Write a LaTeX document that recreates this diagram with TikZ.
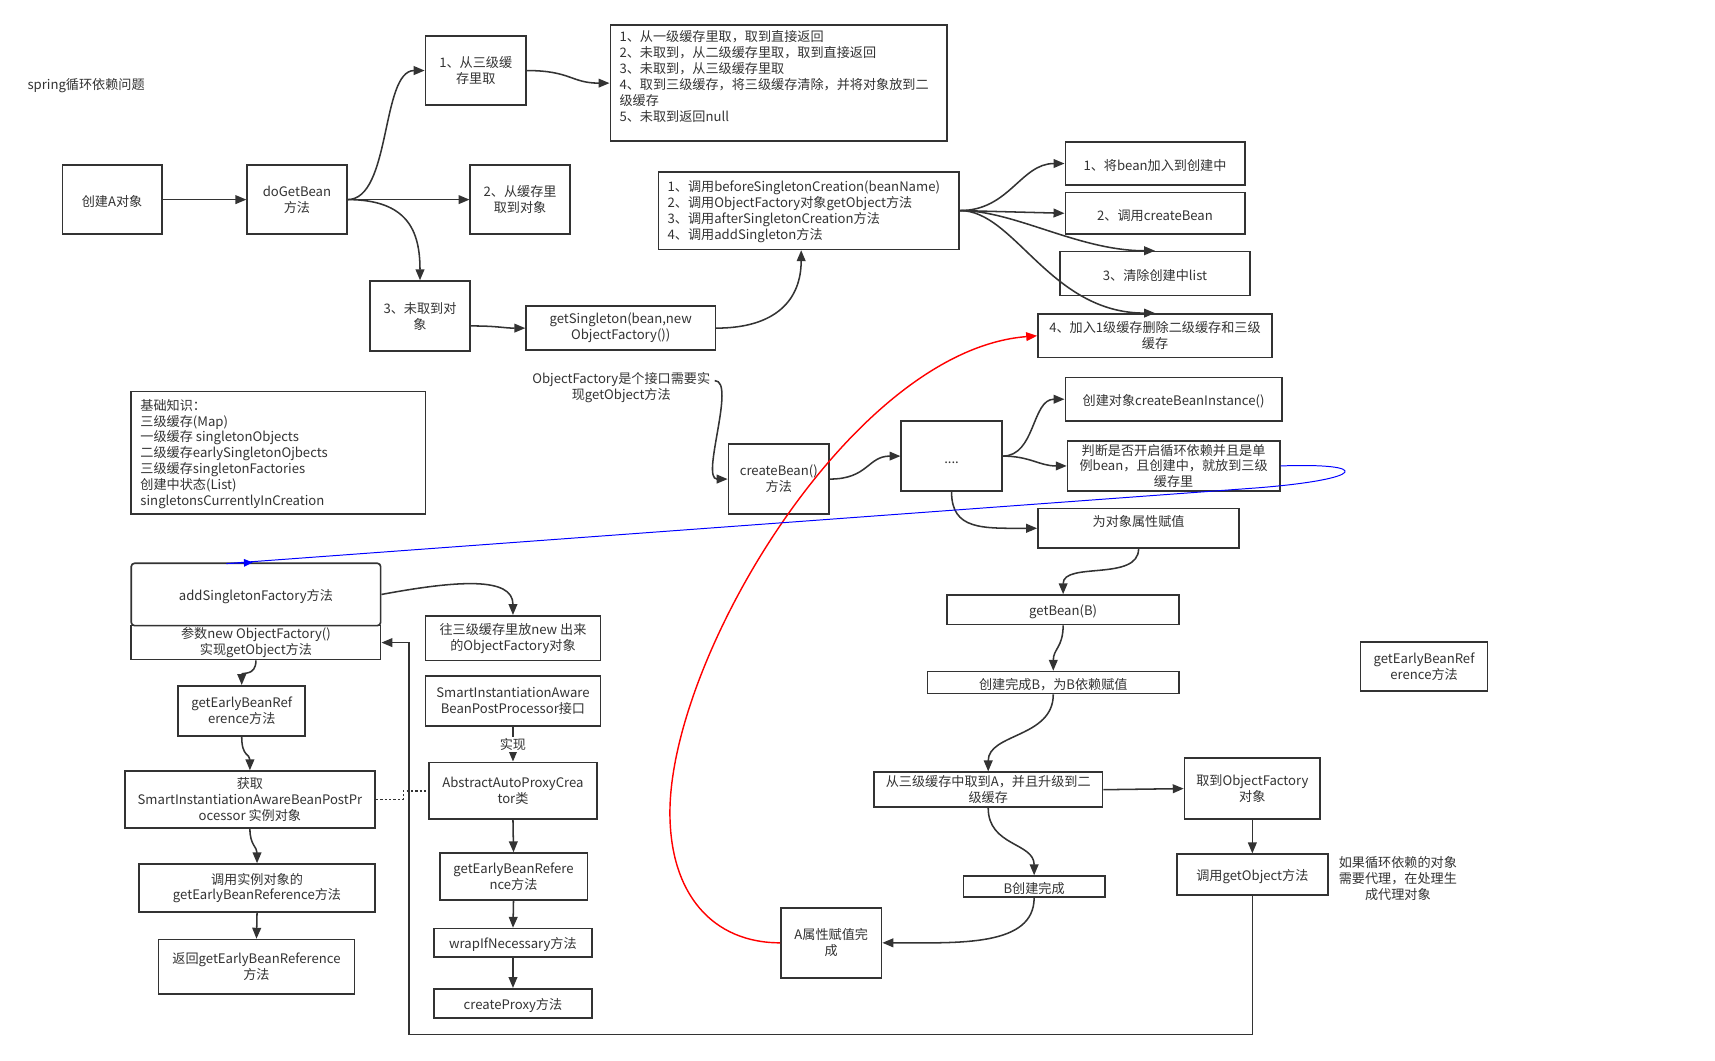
\documentclass[tikz,border=0pt]{standalone}
\usepackage{fontspec}
\setmainfont{Noto Sans CJK SC}
\usetikzlibrary{arrows.meta,calc}
\definecolor{ln}{HTML}{333333}
\newcommand{\dfont}{\fontsize{12}{14.5}\selectfont}
\begin{document}
\begin{tikzpicture}[x=1pt,y=-1pt,
  box/.style={draw=ln, line width=1.5pt, text=ln, align=center, inner sep=1pt, font=\dfont, execute at begin node={\rule{0pt}{13.5pt}}},
  ed/.style={draw=ln, line width=1.4pt, -{Triangle[length=10pt,width=8pt]}},
  txt/.style={text=ln, font=\dfont, inner sep=0pt}]
\useasboundingbox[fill=white] (0,0) rectangle (1568,970);

\node[txt,anchor=west] (title) at (25,78) {spring循环依赖问题};

\node[box,minimum width=91pt,minimum height=63pt] (cA) at (102.5,182.5) {创建A对象};
\node[box,minimum width=91pt,minimum height=63pt] (dgb) at (271.5,182.5) {doGetBean\\方法};
\node[box,minimum width=92pt,minimum height=63pt] (s1) at (435,64.5) {1、从三级缓\\存里取};
\node[box,minimum width=91pt,minimum height=63pt] (s2) at (475.5,182.5) {2、从缓存里\\取到对象};
\node[box,minimum width=92pt,minimum height=64pt] (s3) at (384,289) {3、未取到对\\象};
\node[box,minimum width=173pt,minimum height=40pt] (gs) at (567.5,300) {getSingleton(bean,new\\ObjectFactory())};

\node[box,minimum width=308pt,minimum height=106pt] (lst) at (712,76) {};
\node[txt,anchor=west,align=left] (lstt) at ($(lst.west)+(9,-6)$) {1、从一级缓存里取，取到直接返回\\2、未取到，从二级缓存里取，取到直接返回\\3、未取到，从三级缓存里取\\4、取到三级缓存，将三级缓存清除，并将对象放到二\\级缓存\\5、未取到返回null};

\node[box,minimum width=275pt,minimum height=71pt] (gsl) at (739.5,192.5) {};
\node[txt,anchor=west,align=left] (gslt) at ($(gsl.west)+(9,1)$) {1、调用beforeSingletonCreation(beanName)\\2、调用ObjectFactory对象getObject方法\\3、调用afterSingletonCreation方法\\4、调用addSingleton方法};

\node[box,minimum width=164pt,minimum height=39pt] (b1) at (1056,149.5) {1、将bean加入到创建中};
\node[box,minimum width=164pt,minimum height=38pt] (b2) at (1056,195) {2、调用createBean};
\node[box,minimum width=174pt,minimum height=40pt] (b3) at (1056,250) {3、清除创建中list};
\node[box,minimum width=214pt,minimum height=40pt] (b4) at (1056,307) {4、加入1级缓存删除二级缓存和三级\\缓存};

\node[txt,align=center] (oft) at (568,354) {ObjectFactory是个接口需要实\\现getObject方法};

\node[box,minimum width=198pt,minimum height=40pt] (cbi) at (1073,365) {创建对象createBeanInstance()};

\node[box,minimum width=269pt,minimum height=112pt] (base) at (254.5,414) {};
\node[txt,anchor=west,align=left] (baset) at ($(base.west)+(9,1)$) {基础知识：\\三级缓存(Map)\\一级缓存 singletonObjects\\二级缓存earlySingletonOjbects\\三级缓存singletonFactories\\创建中状态(List)\\singletonsCurrentlyInCreation};

\node[box,minimum width=92pt,minimum height=64pt] (cb) at (712,438) {createBean()\\方法};
\node[box,minimum width=92pt,minimum height=64pt] (dots) at (870,417) {....};
\node[box,minimum width=194pt,minimum height=46pt,font=\fontsize{12}{14}\selectfont,inner sep=0pt] (pd) at (1073,426) {判断是否开启循环依赖并且是单\\例bean，且创建中，就放到三级\\缓存里};
\node[box,minimum width=184pt,minimum height=36pt] (wsx) at (1041,483) {};
\node[txt] (wsxt) at ($(wsx.north)+(0,12.5)$) {为对象属性赋值};

\node[box,rounded corners=3pt,minimum width=228pt,minimum height=57pt] (asf) at (234,543.5) {addSingletonFactory方法};
\node[box,minimum width=228pt,minimum height=31pt,inner sep=0pt] (asf2) at (234,587.5) {参数new ObjectFactory()\\实现getObject方法};

\node[box,minimum width=160pt,minimum height=41pt] (w3) at (469,583.5) {往三级缓存里放new 出来\\的ObjectFactory对象};
\node[box,minimum width=160pt,minimum height=46pt] (sia) at (469,641) {SmartInstantiationAware\\BeanPostProcessor接口};
\node[box,minimum width=154pt,minimum height=52pt] (aapc) at (469,723) {AbstractAutoProxyCrea\\tor类};
\node[box,minimum width=135pt,minimum height=43pt] (gebm) at (469.5,801.5) {getEarlyBeanRefere\\nce方法};
\node[box,minimum width=144pt,minimum height=26pt] (wrap) at (469,862) {wrapIfNecessary方法};
\node[box,minimum width=144pt,minimum height=27pt] (cp) at (469,917.5) {createProxy方法};

\node[box,minimum width=116pt,minimum height=46pt] (gebl) at (221,650) {getEarlyBeanRef\\erence方法};
\node[box,minimum width=229pt,minimum height=52pt] (hq) at (228.5,731) {获取\\SmartInstantiationAwareBeanPostPr\\ocessor 实例对象};
\node[box,minimum width=216pt,minimum height=44pt] (dy) at (235,812) {调用实例对象的\\getEarlyBeanReference方法};
\node[box,minimum width=179pt,minimum height=50pt] (fh) at (234.5,884) {返回getEarlyBeanReference\\方法};

\node[box,minimum width=212pt,minimum height=27pt] (gbB) at (972,557.5) {getBean(B)};
\node[box,minimum width=230pt,minimum height=20pt,inner sep=0pt] (cwB) at (963,624) {创建完成B，为B依赖赋值};
\node[box,minimum width=209pt,minimum height=32pt,inner sep=0pt] (cA2) at (903.5,722) {从三级缓存中取到A，并且升级到二\\级缓存};
\node[box,minimum width=124pt,minimum height=56pt] (of) at (1145,721) {取到ObjectFactory\\对象};
\node[box,minimum width=129pt,minimum height=19pt,inner sep=0pt] (bwc) at (945.5,810.5) {B创建完成};
\node[box,minimum width=92pt,minimum height=64pt] (aw) at (760,862) {A属性赋值完\\成};
\node[box,minimum width=138pt,minimum height=37pt] (go) at (1145,799.5) {调用getObject方法};
\node[txt,align=center] (note) at (1278,803) {如果循环依赖的对象\\需要代理，在处理生\\成代理对象};
\node[box,minimum width=116pt,minimum height=45pt] (gebr) at (1302,609.5) {getEarlyBeanRef\\erence方法};

% connectors top
\draw[ed] (cA.east) -- (dgb.west);
\draw[ed] (dgb.east) .. controls +(40,0) and +(-40,0) .. (s1.west);
\draw[ed] (dgb.east) -- (s2.west);
\draw[ed] (dgb.east) .. controls +(55,0) and +(0,-45) .. (s3.north);
\draw[ed] (s1.east) .. controls +(40,0) and +(-35,0) .. (lst.west);
\draw[ed] ($(s3.east)+(0,9)$) .. controls +(25,0) and +(-20,0) .. (gs.west);
\draw[ed] (gs.east) .. controls +(55,0) and +(0,45) .. ($(gsl.south)+(-7,0)$);
\draw[ed] (gsl.east) .. controls +(45,0) and +(-40,0) .. (b1.west);
\draw[ed] (gsl.east) -- (b2.west);
\draw[ed] (gsl.east) .. controls +(50,0) and +(-70,0) .. (b3.north);
\draw[ed] (gsl.east) .. controls +(50,0) and +(-96,0) .. (b4.north);

% middle
\draw[ed] ($(oft.east)+(4,-6)$) .. controls +(20,0) and +(-25,0) .. (cb.west);
\draw[ed] (cb.east) .. controls +(35,0) and +(-30,0) .. (dots.west);
\draw[ed] (dots.east) .. controls +(30,0) and +(-30,0) .. (cbi.west);
\draw[ed] (dots.east) .. controls +(25,0) and +(-25,0) .. (pd.west);
\draw[ed] (dots.south) .. controls +(0,35) and +(-50,0) .. (wsx.west);
\draw[ed] (wsx.south) .. controls +(0,30) and +(0,-30) .. (gbB.north);
\draw[ed] (gbB.south) .. controls +(0,20) and +(0,-20) .. (cwB.north);
\draw[ed] (cwB.south) .. controls +(0,40) and +(0,-35) .. (cA2.north);
\draw[ed] (cA2.east) -- (of.west);
\draw[ed] (cA2.south) .. controls +(0,35) and +(0,-30) .. (bwc.north);
\draw[ed] (bwc.south) .. controls +(0,45) and +(70,0) .. (aw.east);
\draw[ed] (of.south) -- (go.north);
\coordinate (lp) at (374,946);
\draw[ed] (go.south) |- (lp) |- (asf2.east);

% left
\draw[ed] (asf.east) .. controls +(70,-13) and +(0,-35) .. (w3.north);
\draw[ed] (asf2.south) .. controls +(0,15) and +(0,-12) .. (gebl.north);
\draw[ed] (gebl.south) .. controls +(0,18) and +(0,-15) .. (hq.north);
\draw[ed] (hq.south) .. controls +(0,15) and +(0,-15) .. (dy.north);
\draw[ed] (dy.south) -- (fh.north);
\draw[ln, line width=1.4pt, dash pattern=on 2pt off 2pt] (hq.east) -- ++(25,0) |- (aapc.west);
\draw[ed] (sia.south) -- node[txt, fill=white, inner sep=1pt] {实现} (aapc.north);
\draw[ed] (aapc.south) -- (gebm.north);
\draw[ed] (gebm.south) -- (wrap.north);
\draw[ed] (wrap.south) -- (cp.north);

% red
\coordinate (rm) at (612.5,743);
\draw[red, line width=1.3pt, -{Triangle[length=10pt,width=8pt]}] (aw.west) .. controls (652,862) and (612.5,818) .. (rm) .. controls (612.5,600) and (780,320) .. (b4.west);

% blue
\coordinate (bl1) at (1150,446);
\draw[blue, line width=0.9pt, -{Triangle[length=8pt,width=7pt]}] (pd.east) .. controls (1255,423) and (1250,438) .. (bl1) -- ($(asf.north)+(-27,1)$) -- ($(asf.north)+(-3,0)$);
\end{tikzpicture}
\end{document}
